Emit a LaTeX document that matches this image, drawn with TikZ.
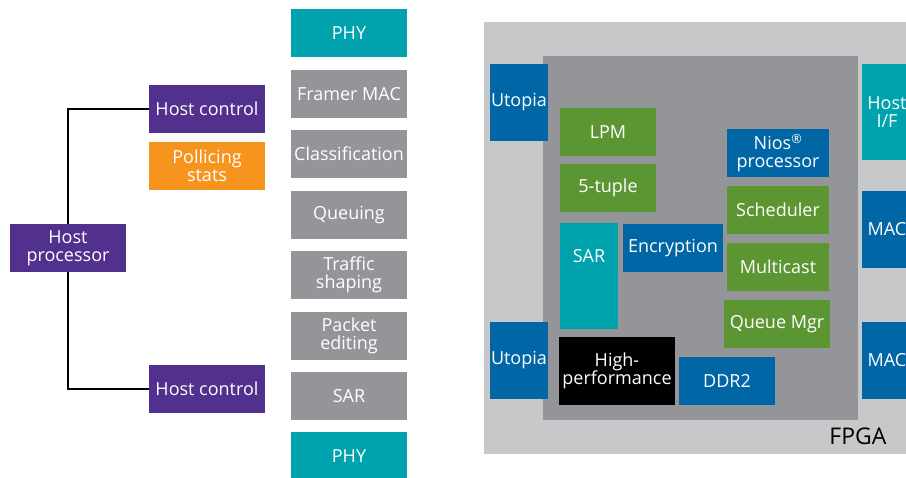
\documentclass[tikz,border=0pt]{standalone}
\usepackage{fontspec}
\setmainfont{Open Sans}
\usepackage{xcolor}
\usetikzlibrary{positioning}
\definecolor{hostpurple}{RGB}{82,48,142}
\definecolor{statorange}{RGB}{247,148,29}
\definecolor{phyteal}{RGB}{0,163,173}
\definecolor{stagegray}{RGB}{147,149,152}
\definecolor{fpgagray}{RGB}{199,200,202}
\definecolor{ipblue}{RGB}{0,102,166}
\definecolor{ipgreen}{RGB}{92,150,50}

\begin{document}
\begin{tikzpicture}[x=1pt,y=-1pt,
    blk/.style={inner sep=0pt, text=white, align=center,
        font=\fontsize{18}{18.5}\selectfont},
    blkwide/.style={blk, minimum width=116pt, minimum height=48pt}]
\useasboundingbox (0,0) rectangle (906,478);
\clip (0,0) rectangle (906,478);

% host side
\node[blkwide, fill=hostpurple] (hostproc) at (68,248) {Host\\processor};
\node[blkwide, fill=hostpurple] (hostctrlA) at (207,109) {Host control};
\node[blkwide, fill=statorange] (polstats) at (207,166) {Pollicing\\stats};
\node[blkwide, fill=hostpurple] (hostctrlB) at (207,389) {Host control};
\draw[line width=2pt] (hostctrlA.west) -| (hostproc.north);
\draw[line width=2pt] (hostproc.south) |- (hostctrlB.west);

% processing pipeline
\foreach \y/\name/\txt/\col in {
    33/phyA/PHY/phyteal,
    94/framer/Framer MAC/stagegray,
    154/classif/Classification/stagegray,
    215/queuing/Queuing/stagegray,
    275/shaping/{Traffic\\shaping}/stagegray,
    336/editing/{Packet\\editing}/stagegray,
    396/sarstage/SAR/stagegray,
    456/phyB/PHY/phyteal%
} {
    \node[blkwide, fill=\col] (\name) at (349,\y) {\txt};
}

% FPGA device
\fill[fpgagray] (484,22) rectangle (930,454);
\fill[stagegray] (543,56) rectangle (858,420);
\node[anchor=base east, font=\fontsize{23}{24}\selectfont] (fpga) at (890,445) {FPGA};

\foreach \x/\y/\w/\h/\name/\txt/\col in {
    519/102.5/58/77/utopiaA/Utopia/ipblue,
    519/360.5/58/77/utopiaB/Utopia/ipblue,
    887/112/50/96/hostif/{Host\\I/F}/phyteal,
    887/229.5/50/77/macA/MAC/ipblue,
    887/360.5/50/77/macB/MAC/ipblue,
    608/132/96/48/lpm/LPM/ipgreen,
    608/188/96/48/tuple/5-tuple/ipgreen,
    673/248/100/48/encrypt/Encryption/ipblue,
    778/153/102/48/nios/{Nios\textsuperscript{®}\\processor}/ipblue,
    778/210/102/48/sched/Scheduler/ipgreen,
    778/267/102/48/mcast/Multicast/ipgreen,
    777/324/106/48/queuemgr/Queue Mgr/ipgreen,
    617/371/116/68/hiperf/{High-\\performance}/black,
    727/381/96/48/ddr/DDR2/ipblue%
} {
    \node[blk, fill=\col, minimum width=\w pt, minimum height=\h pt] (\name) at (\x,\y) {\txt};
}

% SAR block carries its label near the top
\node[blk, fill=phyteal, minimum width=58pt, minimum height=106pt] (sar) at (589,276) {};
\node[blk] (sartxt) at ([yshift=-33pt]sar.north) {SAR};
\end{tikzpicture}
\end{document}
